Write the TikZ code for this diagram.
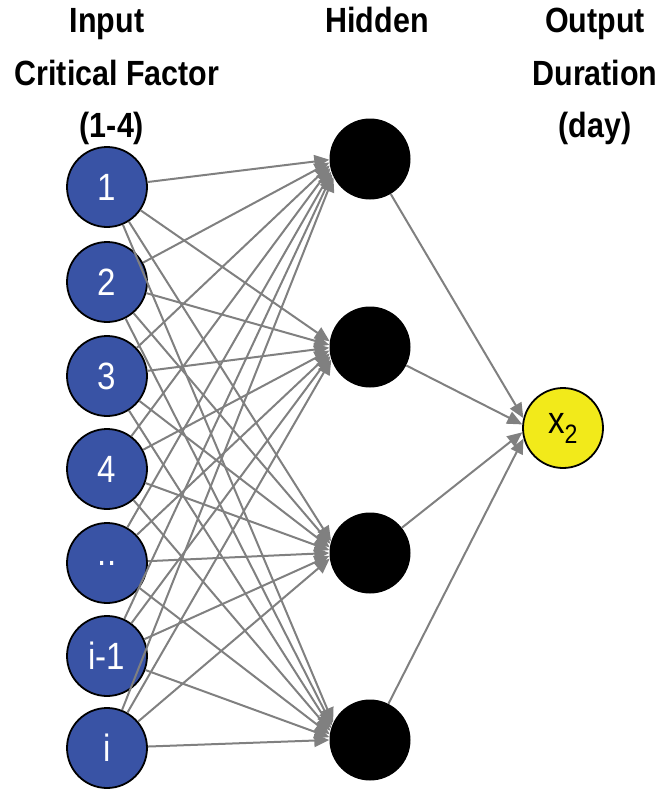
\documentclass[tikz,border=0pt]{standalone}
\usepackage{fontspec}
\setmainfont{Liberation Sans}
\newfontfamily\narrowfont[FakeStretch=0.87]{Liberation Sans}
\usetikzlibrary{arrows.meta}
\definecolor{inblue}{RGB}{57,83,165}
\definecolor{outyellow}{RGB}{242,234,26}
\definecolor{linkgray}{RGB}{128,128,128}
\begin{document}
\begin{tikzpicture}[x=1pt,y=-1pt,
  inunit/.style={circle,draw=black,line width=1.8pt,fill=inblue,minimum size=80pt,inner sep=0pt,text=white,font=\narrowfont\fontsize{38}{38}\selectfont},
  hidunit/.style={circle,fill=black,minimum size=81pt,inner sep=0pt},
  outunit/.style={circle,draw=black,line width=1.8pt,fill=outyellow,minimum size=80pt,inner sep=0pt,font=\narrowfont\fontsize{38}{38}\selectfont},
  header/.style={font=\narrowfont\bfseries\fontsize{35}{35}\selectfont,anchor=base},
  link/.style={draw=linkgray,line width=2pt,-{Triangle[length=15pt,width=13pt]}}]
\useasboundingbox (0,0) rectangle (660,790);
% column titles
\node[header] (t1) at (107,32) {Input};
\node[header] (t2) at (117,85) {Critical Factor};
\node[header] (t3) at (112,137) {(1-4)};
\node[header] (t4) at (377,32) {Hidden};
\node[header] (t5) at (595,32) {Output};
\node[header] (t6) at (595,85) {Duration};
\node[header] (t7) at (595,137) {(day)};
% input layer
\foreach \n/\y/\t in {1/187/1,2/282/2,3/376/3,4/469/4,5/563/..,6/656/i-1,7/748/i}
  \node[inunit] (i\n) at (107,\y) {\t};
% hidden layer
\foreach \n/\y in {1/159,2/347,3/553,4/740}
  \node[hidunit] (h\n) at (370,\y) {};
% output
\node[outunit] (o) at (563,428) {x\textsubscript{2}};
% input -> hidden links, landing on the left side of each hidden unit
\foreach \i/\ys in {1/187,2/282,3/376,4/469,5/563,6/656,7/748}
  \foreach \h/\yh in {1/159,2/347,3/553,4/740}{
    \pgfmathsetmacro\ang{180+0.045*(\ys-\yh)}
    \draw[link] (i\i) -- (h\h.\ang);
  }
% hidden -> output links
\foreach \h/\yh in {1/159,2/347,3/553,4/740}{
  \pgfmathsetmacro\ang{180+0.05*(\yh-428)}
  \draw[link] (h\h) -- (o.\ang);
}
\end{tikzpicture}
\end{document}
